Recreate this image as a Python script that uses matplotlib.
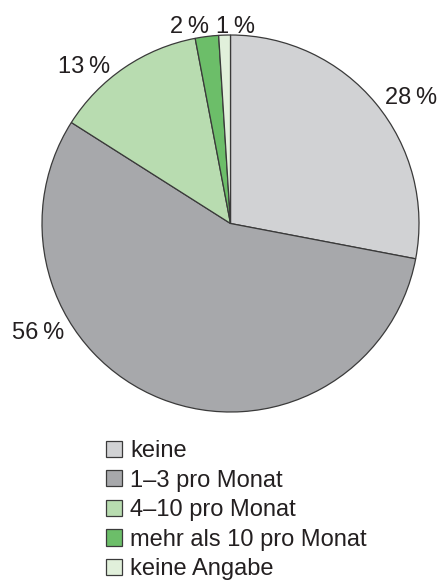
import numpy as np
import matplotlib.pyplot as plt

plt.rcParams['font.family'] = ['Liberation Sans', 'DejaVu Sans']

# Daten
kategorien = ['keine', '1–3 pro Monat', '4–10 pro Monat',
              'mehr als 10 pro Monat', 'keine Angabe']
anteile = [28, 56, 13, 2, 1]
farben = ['#d1d2d4', '#a7a8ab', '#b8dcb0', '#6cbe69', '#e1f0db']

# Lage der Prozentbeschriftungen (Datenkoordinaten, Radius 1)
label_pos = [(0.958, 0.634), (-1.021, -0.613), (-0.777, 0.798),
             (-0.215, 1.011), (0.024, 1.011)]

textfarbe = '#231f20'

fig = plt.figure(figsize=(4.37, 5.8), dpi=100)
ax = fig.add_axes([42 / 437, 168 / 580, 377 / 437, 377 / 580])

wedges, _ = ax.pie(anteile, colors=farben, startangle=90, counterclock=False,
                   radius=1,
                   wedgeprops=dict(edgecolor='#3a3a3a', linewidth=0.9))
ax.set_xlim(-1, 1)
ax.set_ylim(-1, 1)
ax.set_aspect('auto')
ax.axis('off')

for wert, (x, y) in zip(anteile, label_pos):
    ax.text(x, y, f'{wert}\u2009%', ha='center', va='baseline',
            fontsize=17, color=textfarbe, clip_on=False)

# Legende unten, wie im Original bis an den Rand
fig.legend(wedges, kategorien, loc='upper left',
           bbox_to_anchor=(106 / 437, 1 - 440 / 580),
           frameon=False, fontsize=17, handlelength=0.68, handleheight=0.68,
           handletextpad=0.34, labelspacing=0.32, borderpad=0, borderaxespad=0,
           labelcolor=textfarbe)

fig.savefig('out.png', dpi=100)
